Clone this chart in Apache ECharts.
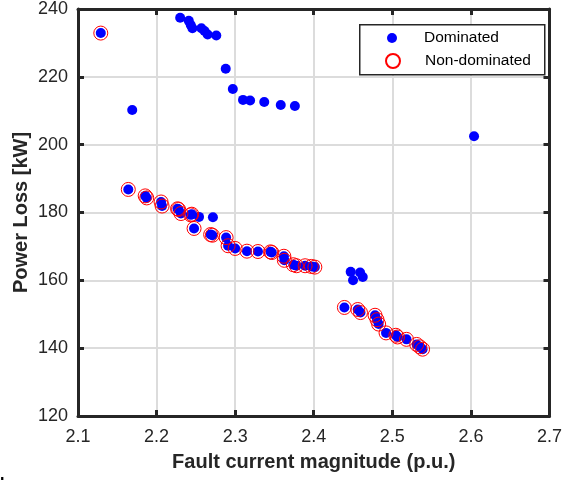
<!DOCTYPE html>
<html>
<head>
<meta charset="utf-8">
<script src="https://cdn.jsdelivr.net/npm/echarts@6/dist/echarts.min.js"></script>
<style>html,body{margin:0;padding:0;background:#fff;}#c{width:565px;height:480px;}</style>
</head>
<body>
<div id="c"></div>
<script>
// Dominated solutions (blue dots only)
var domX = [2.169, 2.230, 2.241, 2.2435, 2.2456, 2.257, 2.261, 2.265, 2.276, 2.288, 2.297, 2.310, 2.319, 2.337, 2.358, 2.376, 2.604, 2.254, 2.2717, 2.447, 2.450, 2.459, 2.4624];
var domY = [210.2, 237.4, 236.5, 235.3, 234.3, 234.3, 233.5, 232.5, 232.2, 222.4, 216.4, 213.2, 213.0, 212.6, 211.7, 211.4, 202.5, 178.7, 178.6, 162.5, 160.0, 162.3, 161.0];
// Non-dominated solutions (Pareto front)
var ndX = [2.129, 2.164, 2.1855, 2.1875, 2.2057, 2.207, 2.2267, 2.228, 2.231, 2.2435, 2.2448, 2.2477, 2.2688, 2.271, 2.2885, 2.291, 2.300, 2.315, 2.329, 2.345, 2.3466, 2.362, 2.3626, 2.374, 2.378, 2.389, 2.397, 2.4014, 2.439, 2.456, 2.4595, 2.478, 2.4805, 2.4826, 2.492, 2.5045, 2.5066, 2.518, 2.531, 2.535, 2.5385];
var ndY = [232.9, 186.8, 184.9, 184.3, 183.1, 181.9, 181.1, 180.9, 179.7, 179.3, 179.5, 175.3, 173.5, 173.3, 172.6, 170.2, 169.4, 168.6, 168.5, 168.4, 168.2, 167.1, 165.9, 164.6, 164.3, 164.3, 164.1, 163.9, 152.0, 151.4, 150.5, 149.7, 148.4, 147.1, 144.5, 143.8, 143.3, 142.6, 141.1, 140.4, 139.7];
var xTicks = [2.1, 2.2, 2.3, 2.4, 2.5, 2.6, 2.7];
var yTicks = [120, 140, 160, 180, 200, 220, 240];
var xTitle = 'Fault current magnitude (p.u.)';
var yTitle = 'Power Loss [kW]';
var seriesNames = ['Dominated', 'Non-dominated'];

function pairs(xs, ys) { return xs.map(function (v, i) { return [v, ys[i]]; }); }
var allPts = pairs(domX, domY).concat(pairs(ndX, ndY));
var ndPts = pairs(ndX, ndY);

var axisColor = '#262626';
var chart = echarts.init(document.getElementById('c'), null, {renderer: 'canvas'});
var baseAxis = {
  axisLine: {show: true, onZero: false, lineStyle: {color: axisColor, width: 3}},
  axisTick: {show: true, inside: true, length: 6, lineStyle: {color: axisColor, width: 3}},
  splitLine: {show: true, lineStyle: {color: '#dcdcdc', width: 2}}
};
chart.setOption({
  animation: false,
  backgroundColor: '#fff',
  grid: {left: 78, right: 12, top: 8, bottom: 64, containLabel: false},
  xAxis: [
    Object.assign({}, baseAxis, {
      type: 'value', position: 'bottom', min: xTicks[0], max: xTicks[xTicks.length - 1], interval: 0.1,
      axisLabel: {color: axisColor, fontSize: 18, fontFamily: 'Liberation Sans, Arial', margin: 12,
        formatter: function (v) { return v.toFixed(1); }},
      name: xTitle, nameLocation: 'middle', nameGap: 36, nameMoveOverlap: false,
      nameTextStyle: {color: axisColor, fontSize: 20, fontWeight: 'bold', fontFamily: 'Liberation Sans, Arial'}
    }),
    Object.assign({}, baseAxis, {
      type: 'value', position: 'top', min: xTicks[0], max: xTicks[xTicks.length - 1], interval: 0.1,
      axisLabel: {show: false}, splitLine: {show: false}
    })
  ],
  yAxis: [
    Object.assign({}, baseAxis, {
      type: 'value', position: 'left', min: yTicks[0], max: yTicks[yTicks.length - 1], interval: 20,
      axisLabel: {color: axisColor, fontSize: 18, fontFamily: 'Liberation Sans, Arial', margin: 10},
      name: yTitle, nameLocation: 'middle', nameGap: 47, nameMoveOverlap: false,
      nameTextStyle: {color: axisColor, fontSize: 20, fontWeight: 'bold', fontFamily: 'Liberation Sans, Arial'}
    }),
    Object.assign({}, baseAxis, {
      type: 'value', position: 'right', min: yTicks[0], max: yTicks[yTicks.length - 1], interval: 20,
      axisLabel: {show: false}, splitLine: {show: false}
    })
  ],
  graphic: [
    {type: 'rect', left: 359, top: 24, z: 3, shape: {width: 185, height: 50},
      style: {fill: '#fff', stroke: axisColor, lineWidth: 1.5}},
    {type: 'text', left: 0, top: 477, z: 3, style: {text: 'Image', fill: '#000', font: 'bold 16px Liberation Sans, Arial'}}
  ],
  legend: [
    {data: [seriesNames[0]], left: 387, top: 30, padding: 0, orient: 'vertical', itemWidth: 54, itemHeight: 10,
      textStyle: {color: '#000', fontSize: 15.5, fontFamily: 'Liberation Sans, Arial'}, z: 4},
    {data: [seriesNames[1]], left: 385, top: 53, padding: 0, orient: 'vertical', itemWidth: 54, itemHeight: 14,
      textStyle: {color: '#000', fontSize: 15.5, fontFamily: 'Liberation Sans, Arial'}, z: 4}
  ],
  series: [
    {name: seriesNames[0], type: 'scatter', symbol: 'circle', symbolSize: 10, data: allPts,
      itemStyle: {color: '#0000ff', opacity: 1}, z: 2},
    {name: seriesNames[1], type: 'scatter', symbol: 'circle', symbolSize: 14, data: ndPts,
      itemStyle: {color: 'rgba(0,0,0,0)', borderColor: '#ff0000', borderWidth: 1, opacity: 1}, z: 3}
  ]
});
</script>
</body>
</html>
